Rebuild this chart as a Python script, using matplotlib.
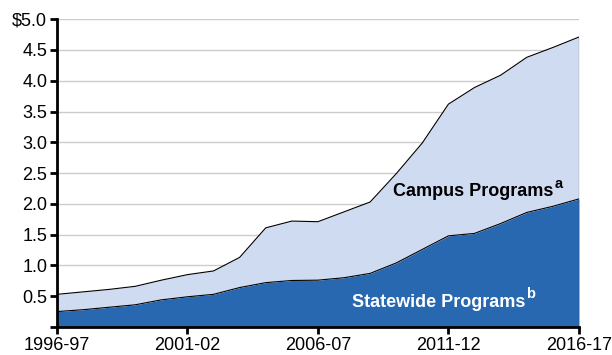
import matplotlib
matplotlib.use("Agg")
import matplotlib.pyplot as plt
import matplotlib.transforms as mtransforms
import numpy as np

plt.rcParams['font.family'] = ['Liberation Sans', 'DejaVu Sans']

years = ["1996-97", "1997-98", "1998-99", "1999-00", "2000-01", "2001-02",
         "2002-03", "2003-04", "2004-05", "2005-06", "2006-07", "2007-08",
         "2008-09", "2009-10", "2010-11", "2011-12", "2012-13", "2013-14",
         "2014-15", "2015-16", "2016-17"]
# billions of dollars
statewide = [0.25, 0.28, 0.32, 0.36, 0.44, 0.49, 0.53, 0.64, 0.72, 0.755,
             0.76, 0.80, 0.87, 1.04, 1.26, 1.48, 1.52, 1.68, 1.86, 1.96, 2.08]
total = [0.53, 0.57, 0.61, 0.66, 0.76, 0.85, 0.91, 1.13, 1.61, 1.72,
         1.71, 1.87, 2.03, 2.49, 2.99, 3.62, 3.89, 4.09, 4.38, 4.54, 4.71]
campus = [t - s for t, s in zip(total, statewide)]

tick_labels = ["1996-97", "2001-02", "2006-07", "2011-12", "2016-17"]

x = np.arange(len(years))
top = np.array(statewide) + np.array(campus)

fig = plt.figure(figsize=(6.12, 3.55), dpi=100)
ax = fig.add_axes([0.093, 0.079, 0.853, 0.867])

ax.fill_between(x, 0, statewide, color="#2868b0", lw=0, zorder=2)
ax.fill_between(x, statewide, top, color="#cfdbf0", lw=0, zorder=2)
ax.plot(x, statewide, color="black", lw=0.8, zorder=3)
ax.plot(x, top, color="black", lw=0.8, zorder=3)
ax.plot([x[-1], x[-1]], [0, top[-1]], color="black", lw=0.8, zorder=3)

ax.set_xlim(0, 20)
ax.set_ylim(0, 5)
yt = np.arange(0.5, 5.01, 0.5)
ax.set_yticks(np.arange(0, 5.01, 0.5))
ax.set_yticklabels([""] + ["%.1f" % v for v in yt[:-1]] + ["$5.0"])
for v in yt:
    ax.axhline(v, color="#cccccc", lw=1, zorder=1)

ax.set_xticks([years.index(t) for t in tick_labels])
ax.set_xticklabels(tick_labels)

for s in ["top", "right"]:
    ax.spines[s].set_visible(False)
for s in ["left", "bottom"]:
    ax.spines[s].set_linewidth(2)
    ax.spines[s].set_zorder(4)
ax.tick_params(axis="both", labelsize=13, width=2, length=5, color="black", pad=2)
ax.tick_params(axis="x", pad=2)

# series labels, each followed by a raised footnote letter
labels = [
    (12.87, 2.125, "Campus Programs", "a", "black"),
    (11.3, 0.33, "Statewide Programs", "b", "white"),
]
fig.canvas.draw()
r = fig.canvas.get_renderer()
for lx, ly, name, note, color in labels:
    t = ax.text(lx, ly, name, fontsize=13, fontweight="bold", ha="left",
                va="baseline", color=color, zorder=5)
    bb = t.get_window_extent(r)
    x_end = ax.transData.inverted().transform((bb.x1 + 1, 0))[0]
    raised = mtransforms.offset_copy(ax.transData, fig=fig, x=0, y=8.4 * 72 / fig.dpi,
                                     units="points")
    ax.text(x_end, ly, note, transform=raised, fontsize=10.5, fontweight="bold",
            ha="left", va="baseline", color=color, zorder=5)

fig.savefig("out.png", dpi=100)
